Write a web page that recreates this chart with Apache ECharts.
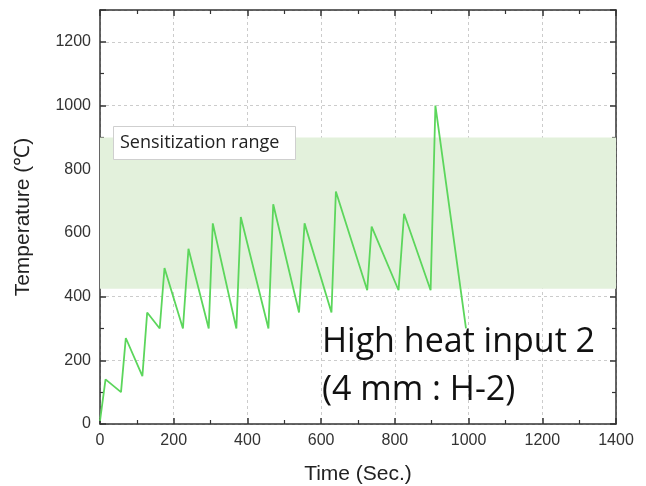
<!DOCTYPE html>
<html>
<head>
<meta charset="utf-8">
<script src="https://cdn.jsdelivr.net/npm/echarts@6/dist/echarts.min.js"></script>
<style>
  html, body { margin: 0; padding: 0; background: #fff; }
  #chart { width: 646px; height: 486px; }
</style>
</head>
<body>
<div id="chart"></div>
<script>
// time (s) and temperature (C)
var timeSec = [0, 15, 57, 70, 115, 128, 162, 175, 225, 240, 295, 306, 370, 382, 457, 470, 540, 555, 628, 640, 725, 737, 810, 825, 897, 910, 993];
var tempC   = [10, 140, 100, 270, 150, 350, 300, 490, 300, 550, 300, 630, 300, 650, 300, 690, 350, 630, 350, 730, 420, 620, 420, 660, 420, 1000, 300];
var bandRange = [425, 900];
var xTicks = [0, 1400, 200];
var yTicks = [0, 1300, 200];

var points = timeSec.map(function (t, i) { return [t, tempC[i]]; });

var chart = echarts.init(document.getElementById('chart'));

var fam = 'Liberation Sans, Arial, sans-serif';
var axisFont = { color: '#333', fontSize: 16, fontFamily: fam, formatter: function (v) { return String(v); } };
var lineStyle = { color: '#333', width: 1.5 };
var splitStyle = { show: true, lineStyle: { color: '#ccc', type: [3, 3], width: 1 } };

function mirror(base, pos) {
  return Object.assign({}, base, {
    position: pos,
    name: '',
    axisLabel: { show: false },
    splitLine: { show: false }
  });
}

var xBase = {
  type: 'value', min: xTicks[0], max: xTicks[1], interval: xTicks[2],
  axisLine: { show: true, onZero: false, lineStyle: lineStyle },
  axisTick: { show: true, inside: true, length: 6, lineStyle: lineStyle },
  minorTick: { show: true, splitNumber: 2, length: 4, lineStyle: { color: '#333', width: 1.2 } },
  axisLabel: Object.assign({ margin: 9 }, axisFont),
  splitLine: splitStyle,
  name: 'Time (Sec.)', nameLocation: 'middle', nameGap: 40,
  nameTextStyle: { color: '#222', fontSize: 21, fontFamily: fam }
};
var yBase = {
  type: 'value', min: yTicks[0], max: yTicks[1], interval: yTicks[2],
  axisLine: { show: true, onZero: false, lineStyle: lineStyle },
  axisTick: { show: true, inside: true, length: 6, lineStyle: lineStyle },
  minorTick: { show: true, splitNumber: 2, length: 4, lineStyle: { color: '#333', width: 1.2 } },
  axisLabel: Object.assign({ margin: 9, showMaxLabel: false }, axisFont),
  splitLine: splitStyle,
  name: 'Temperature (℃)', nameLocation: 'middle', nameGap: 66,
  nameTextStyle: { color: '#222', fontSize: 21, fontFamily: fam }
};

chart.setOption({
  animation: false,
  backgroundColor: '#fff',
  grid: { left: 100, right: 30, top: 10, bottom: 62, outerBoundsMode: 'none' },
  xAxis: [xBase, mirror(xBase, 'top')],
  yAxis: [yBase, mirror(yBase, 'right')],
  series: [{
    type: 'line',
    data: points,
    showSymbol: false,
    lineStyle: { color: '#5cd65c', width: 1.8 },
    z: 3,
    markArea: {
      silent: true,
      itemStyle: { color: '#e3f1dc' },
      data: [[{ yAxis: bandRange[0] }, { yAxis: bandRange[1] }]]
    }
  }],
  graphic: [
    { type: 'rect', left: 113, top: 126, z: 100,
      shape: { width: 182, height: 33 },
      style: { fill: '#fff', stroke: '#cfcfcf', lineWidth: 1 } },
    { type: 'text', left: 120, top: 134, z: 101,
      style: { text: 'Sensitization range', fill: '#222', fontSize: 18, fontFamily: 'Open Sans, sans-serif' } },
    { type: 'text', left: 322, top: 325, z: 101,
      style: { text: 'High heat input 2', fill: '#111', fontSize: 34, fontFamily: 'Open Sans, sans-serif' } },
    { type: 'text', left: 322, top: 373, z: 101,
      style: { text: '(4 mm : H-2)', fill: '#111', fontSize: 34, fontFamily: 'Open Sans, sans-serif' } }
  ]
});
</script>
</body>
</html>
